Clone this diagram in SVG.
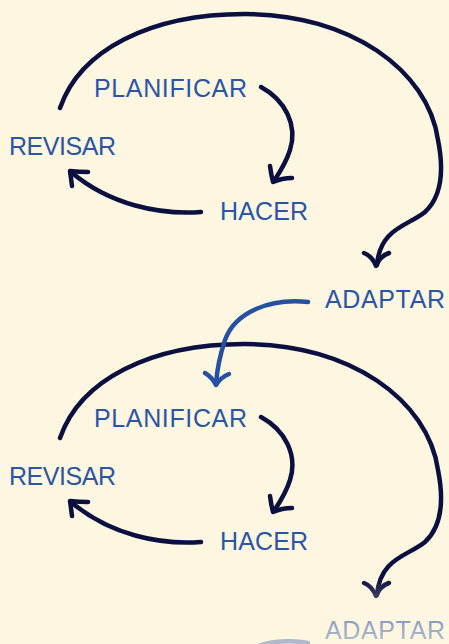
<svg xmlns="http://www.w3.org/2000/svg" width="449" height="644" viewBox="0 0 449 644">
  <style>
    .label { font-family: "Liberation Sans", Arial, sans-serif; font-size: 25px; fill: #2b55a5; }
    .link { fill: none; stroke: #0b1040; stroke-width: 4.5; stroke-linecap: round; stroke-linejoin: round; }
    .link-blue { fill: none; stroke: #2650a2; stroke-width: 4.5; stroke-linecap: round; stroke-linejoin: round; }
  </style>
  <defs>
    <linearGradient id="fade" gradientUnits="userSpaceOnUse" x1="0" y1="578" x2="0" y2="644">
      <stop offset="0" stop-color="#fdf6e1" stop-opacity="0"/>
      <stop offset="0.8" stop-color="#fdf6e1" stop-opacity="0.55"/>
      <stop offset="1" stop-color="#fdf6e1" stop-opacity="0.65"/>
    </linearGradient>
  </defs>

  <rect width="449" height="644" fill="#fdf6e1"/>

  <g id="connectors">
    <!-- first cycle -->
    <g id="cycle1-links">
      <!-- outer loop: REVISAR back round to ADAPTAR -->
      <path class="link" d="M60,108 C80,50 150,14 245,14 C350,14 428,70 438,140 C445,175 440,198 425,212 C408,226 380,228 377,265"/>
      <path class="link" d="M364,253 Q372,256 376,266 Q380,256 389,253"/>
      <!-- PLANIFICAR to HACER -->
      <path class="link" d="M261,87 C285,100 298,125 290,150 C286,163 280,172 274,181"/>
      <path class="link" d="M270,166 Q271,174 273,182 Q282,178 292,178"/>
      <!-- HACER to REVISAR -->
      <path class="link" d="M201,212 C160,215 110,205 71,172"/>
      <path class="link" d="M72,186 Q71,178 70,171 Q79,172 88,172"/>
    </g>
    <!-- second cycle, same loop shifted down -->
    <g id="cycle2-links" transform="translate(0,330)">
      <path class="link" d="M60,108 C80,50 150,14 245,14 C350,14 428,70 438,140 C445,175 440,198 425,212 C408,226 380,228 377,265"/>
      <path class="link" d="M364,253 Q372,256 376,266 Q380,256 389,253"/>
      <path class="link" d="M261,87 C285,100 298,125 290,150 C286,163 280,172 274,181"/>
      <path class="link" d="M270,166 Q271,174 273,182 Q282,178 292,178"/>
      <path class="link" d="M201,212 C160,215 110,205 71,172"/>
      <path class="link" d="M72,186 Q71,178 70,171 Q79,172 88,172"/>
    </g>
    <!-- ADAPTAR feeding into the next PLANIFICAR -->
    <g id="adapt-links">
      <path class="link-blue" d="M308,302 C270,298 235,312 225,340 C219,358 217,370 216,384"/>
      <path class="link-blue" d="M205,373 Q212,377 216,385 Q221,377 229,374"/>
      <path class="link-blue" d="M308,643 C292,640 272,641 258,646"/>
    </g>
  </g>

  <g id="planificar-1"><text class="label" x="94" y="97" textLength="153" lengthAdjust="spacing">PLANIFICAR</text></g>
  <g id="hacer-1"><text class="label" x="220" y="220" textLength="88" lengthAdjust="spacing">HACER</text></g>
  <g id="revisar-1"><text class="label" x="9" y="155" textLength="107" lengthAdjust="spacing">REVISAR</text></g>
  <g id="adaptar-1"><text class="label" x="325" y="308" textLength="120" lengthAdjust="spacing">ADAPTAR</text></g>

  <g id="planificar-2"><text class="label" x="94" y="427" textLength="153" lengthAdjust="spacing">PLANIFICAR</text></g>
  <g id="hacer-2"><text class="label" x="220" y="550" textLength="88" lengthAdjust="spacing">HACER</text></g>
  <g id="revisar-2"><text class="label" x="9" y="485" textLength="107" lengthAdjust="spacing">REVISAR</text></g>
  <g id="adaptar-2"><text class="label" x="325" y="639" textLength="120" lengthAdjust="spacing">ADAPTAR</text></g>

  <!-- soft fade toward the bottom edge -->
  <rect x="0" y="578" width="449" height="66" fill="url(#fade)"/>
</svg>
